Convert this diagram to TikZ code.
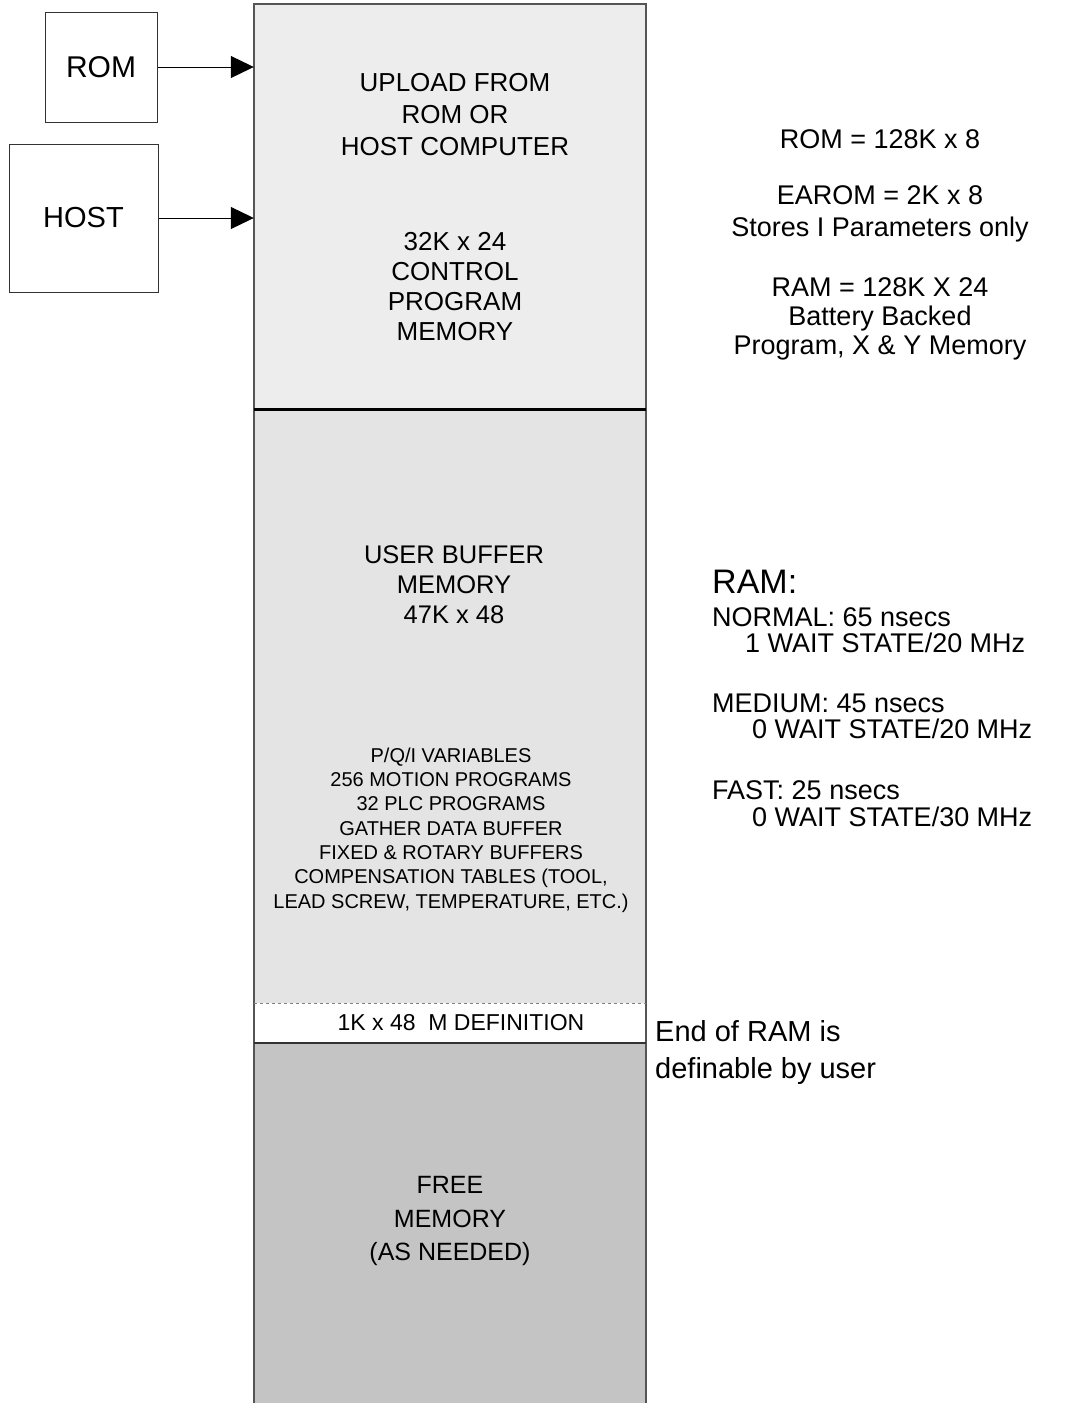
\documentclass[tikz,border=0pt]{standalone}
\usepackage{fontspec}
\setmainfont{Liberation Sans}
\usetikzlibrary{positioning, shapes.geometric, arrows.meta}
\definecolor{ctrlgrey}{HTML}{EDEDED}
\definecolor{bufgrey}{HTML}{E4E4E4}
\definecolor{freegrey}{HTML}{C4C4C4}
\definecolor{edgegrey}{HTML}{555555}
\tikzstyle{srcbox} = [rectangle, draw=black!80, line width=1pt, fill=white, inner sep=0pt]
\tikzstyle{region} = [rectangle, inner sep=0pt, minimum width=392pt, draw=none]
\tikzstyle{arrow} = [line width=1pt, -{Triangle[length=23pt, width=22pt]}]
\tikzstyle{memtext} = [align=center, inner sep=0pt]
\tikzstyle{sidenote} = [align=left, anchor=west, inner sep=0pt]

\begin{document}
\begin{tikzpicture}[x=1pt, y=-1pt]
\useasboundingbox (0,0) rectangle (1069,1403);

% memory column
\node (ctrlmem) [region, fill=ctrlgrey, minimum height=405pt] at (450,206.5) {};
\node (userbuf) [region, fill=bufgrey, minimum height=594pt, below=0pt of ctrlmem] {};
\node (mdef) [region, fill=white, minimum height=39pt, below=0pt of userbuf] {};
\node (freemem) [region, fill=freegrey, minimum height=361pt, below=0pt of mdef] {};

\draw [edgegrey, line width=2pt] (freemem.south west) |- (ctrlmem.north east) -- (freemem.south east);
\draw [black, line width=3pt] (ctrlmem.south west) -- (ctrlmem.south east);
\draw [gray, dashed] (userbuf.south west) -- (userbuf.south east);
\draw [black!80, line width=1.5pt] (mdef.south west) -- (mdef.south east);

% sources
\node (rom) [srcbox, minimum width=112pt, minimum height=110pt] at (101,67) {\fontsize{30}{36}\selectfont ROM};
\node (host) [srcbox, minimum width=149pt, minimum height=148pt] at (83.5,218) {\fontsize{29}{35}\selectfont HOST};

\draw [arrow] (rom.east) -- (rom.east -| ctrlmem.west);
\draw [arrow] (host.east) -- (host.east -| ctrlmem.west);

% texts in the column
\node (upload) [memtext, font=\fontsize{26}{32}\selectfont] at (455,115) {UPLOAD FROM\\ROM OR\\HOST COMPUTER};
\node (ctrltext) [memtext, font=\fontsize{26}{30}\selectfont] at (455,287) {32K x 24\\CONTROL\\PROGRAM\\MEMORY};
\node (buftext) [memtext, font=\fontsize{25.5}{30}\selectfont] at (454,585) {USER BUFFER\\MEMORY\\47K x 48};
\node (pqi) [memtext, font=\fontsize{20}{24.3}\selectfont] at (451,830) {P/Q/I VARIABLES\\256 MOTION PROGRAMS\\32 PLC PROGRAMS\\GATHER DATA BUFFER\\FIXED \& ROTARY BUFFERS\\COMPENSATION TABLES (TOOL,\\LEAD SCREW, TEMPERATURE, ETC.)};
\node (mdeftext) [memtext, font=\fontsize{23}{28}\selectfont] at (461,1023) {1K x 48\ \ M DEFINITION};
\node (freetext) [memtext, font=\fontsize{25}{33.5}\selectfont] at (450,1221) {FREE\\MEMORY\\(AS NEEDED)};

% sizes
\node (romsize) [memtext, font=\fontsize{27}{30}\selectfont] at (880,139) {ROM = 128K x 8};
\node (earomsize) [memtext, font=\fontsize{27}{32}\selectfont] at (880,213.5) {EAROM = 2K x 8\\Stores I Parameters only};
\node (ramsize) [memtext, font=\fontsize{27}{29}\selectfont] at (880,318.5) {RAM = 128K X 24\\Battery Backed\\Program, X \& Y Memory};

% RAM speeds
\node (ramhead) [sidenote, font=\fontsize{34}{40}\selectfont] at (712,582) {RAM:};
\node (normal) [sidenote, font=\fontsize{27}{26.5}\selectfont] at (712,630) {NORMAL: 65 nsecs\\\hspace*{33pt}1 WAIT STATE/20 MHz};
\node (medium) [sidenote, font=\fontsize{27}{26.5}\selectfont] at (712,716.5) {MEDIUM: 45 nsecs\\\hspace*{40pt}0 WAIT STATE/20 MHz};
\node (fast) [sidenote, font=\fontsize{27}{26.5}\selectfont] at (712,803.5) {FAST: 25 nsecs\\\hspace*{40pt}0 WAIT STATE/30 MHz};

\node (ramend) [sidenote, font=\fontsize{29}{37}\selectfont] at (655,1052) {End of RAM is\\definable by user};
\end{tikzpicture}
\end{document}
